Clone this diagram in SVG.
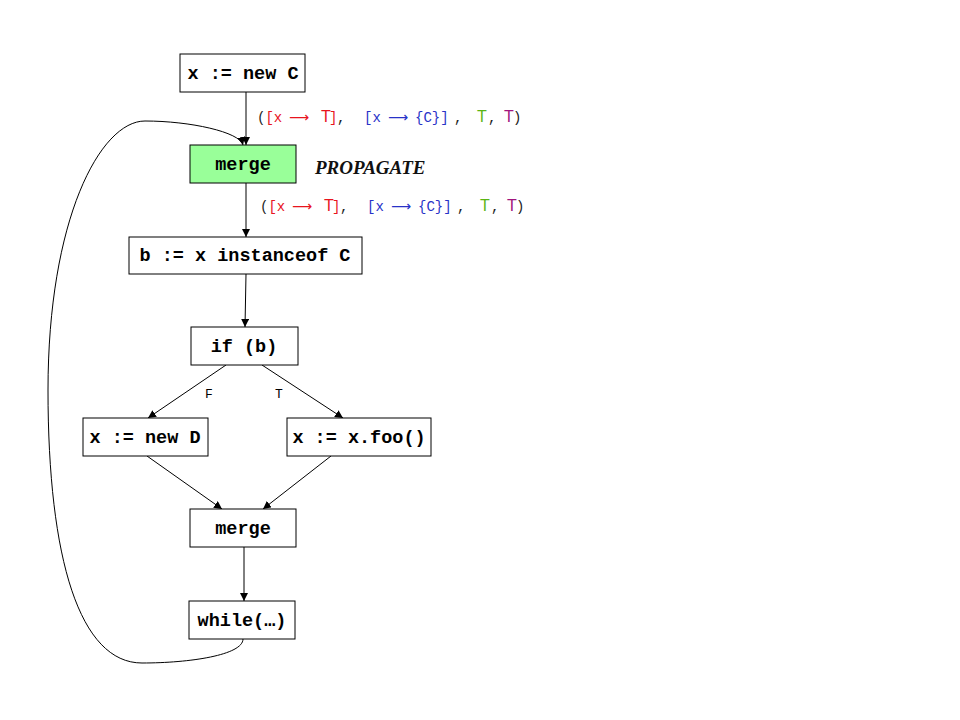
<svg xmlns="http://www.w3.org/2000/svg" width="960" height="720" viewBox="0 0 960 720">
<defs>
<marker id="ah" viewBox="0 0 10 10" refX="10" refY="5" markerWidth="8" markerHeight="8" markerUnits="userSpaceOnUse" orient="auto">
<path d="M0,0 L10,5 L0,10 z" fill="#000"/>
</marker>
<style>
.box{fill:#fff;stroke:#000;stroke-width:1}
.green{fill:#99ff99}
.t{font-family:"Liberation Mono","Courier New",monospace;font-weight:bold;font-size:18.5px;fill:#000;text-anchor:middle}
.c{fill:none;stroke:#000;stroke-width:1;marker-end:url(#ah)}
.lab{font-family:"Liberation Mono","Courier New",monospace;font-size:14px}
.s{font-family:"Liberation Sans",Arial,sans-serif;font-size:16px}
.ar{font-family:"DejaVu Sans",sans-serif;font-size:14px}
.red{fill:#e8141e}
.blue{fill:#2832c8}
.grn{fill:#5ab414}
.pur{fill:#a0147d}
.blk{fill:#222}
.bl{font-family:"Liberation Mono","Courier New",monospace;font-size:13px;fill:#000}
</style>
</defs>
<rect width="960" height="720" fill="#fff"/>
<g id="connectors">
<line class="c" x1="246" y1="92" x2="246" y2="145"/>
<line class="c" x1="246" y1="183" x2="246" y2="237"/>
<line class="c" x1="246" y1="274" x2="245" y2="327"/>
<line class="c" x1="226" y1="365" x2="148" y2="418"/>
<line class="c" x1="262" y1="365" x2="343" y2="418"/>
<line class="c" x1="147" y1="456" x2="222" y2="509"/>
<line class="c" x1="331" y1="456" x2="263" y2="509"/>
<line class="c" x1="244" y1="547" x2="244" y2="601"/>
<path class="c" d="M243,639 C243,655 190,663 142,663 C80,663 48,560 48,390 C48,220 100,121 145,121 C190,121 240,132 243,145"/>
<text class="bl" x="209" y="398" text-anchor="middle">F</text>
<text class="bl" x="279" y="398" text-anchor="middle">T</text>
</g>
<g id="n1"><rect class="box" x="180" y="54" width="125" height="38"/><text class="t" x="243" y="79">x := new C</text></g>
<g id="n2"><rect class="box green" x="190" y="145" width="106" height="38"/><text class="t" x="243" y="170">merge</text></g>
<g id="n3"><rect class="box" x="129" y="237" width="233" height="37"/><text class="t" x="245" y="261">b := x instanceof C</text></g>
<g id="n4"><rect class="box" x="191" y="327" width="107" height="38"/><text class="t" x="244" y="352">if (b)</text></g>
<g id="n5"><rect class="box" x="83" y="418" width="125" height="38"/><text class="t" x="145" y="443">x := new D</text></g>
<g id="n6"><rect class="box" x="287" y="418" width="144" height="38"/><text class="t" x="359" y="443">x := x.foo()</text></g>
<g id="n7"><rect class="box" x="190" y="509" width="106" height="38"/><text class="t" x="243" y="534">merge</text></g>
<g id="n8"><rect class="box" x="189" y="601" width="106" height="38"/><text class="t" x="242" y="626">while(…)</text></g>
<g id="label1">
<text class="lab" y="122"><tspan class="blk" x="257">(</tspan><tspan class="red">[x</tspan><tspan class="red ar" x="289">⟶</tspan><tspan class="red s" x="321">T</tspan><tspan class="red" x="329">]</tspan><tspan class="blk" x="337">,</tspan><tspan class="blue" x="364">[x</tspan><tspan class="blue ar" x="388">⟶</tspan><tspan class="blue" x="415">{C}]</tspan><tspan class="blk" x="454">,</tspan><tspan class="grn s" x="477">T</tspan><tspan class="blk" x="488">,</tspan><tspan class="pur s" x="504">T</tspan><tspan class="blk" x="513">)</tspan></text>
</g>
<g id="label2">
<text class="lab" y="211"><tspan class="blk" x="260">(</tspan><tspan class="red">[x</tspan><tspan class="red ar" x="292">⟶</tspan><tspan class="red s" x="324">T</tspan><tspan class="red" x="332">]</tspan><tspan class="blk" x="340">,</tspan><tspan class="blue" x="367">[x</tspan><tspan class="blue ar" x="391">⟶</tspan><tspan class="blue" x="418">{C}]</tspan><tspan class="blk" x="457">,</tspan><tspan class="grn s" x="480">T</tspan><tspan class="blk" x="491">,</tspan><tspan class="pur s" x="507">T</tspan><tspan class="blk" x="516">)</tspan></text>
</g>
<text x="315" y="174" font-family="Liberation Serif,'Times New Roman',serif" font-weight="bold" font-style="italic" font-size="19" fill="#111">PROPAGATE</text>
</svg>
